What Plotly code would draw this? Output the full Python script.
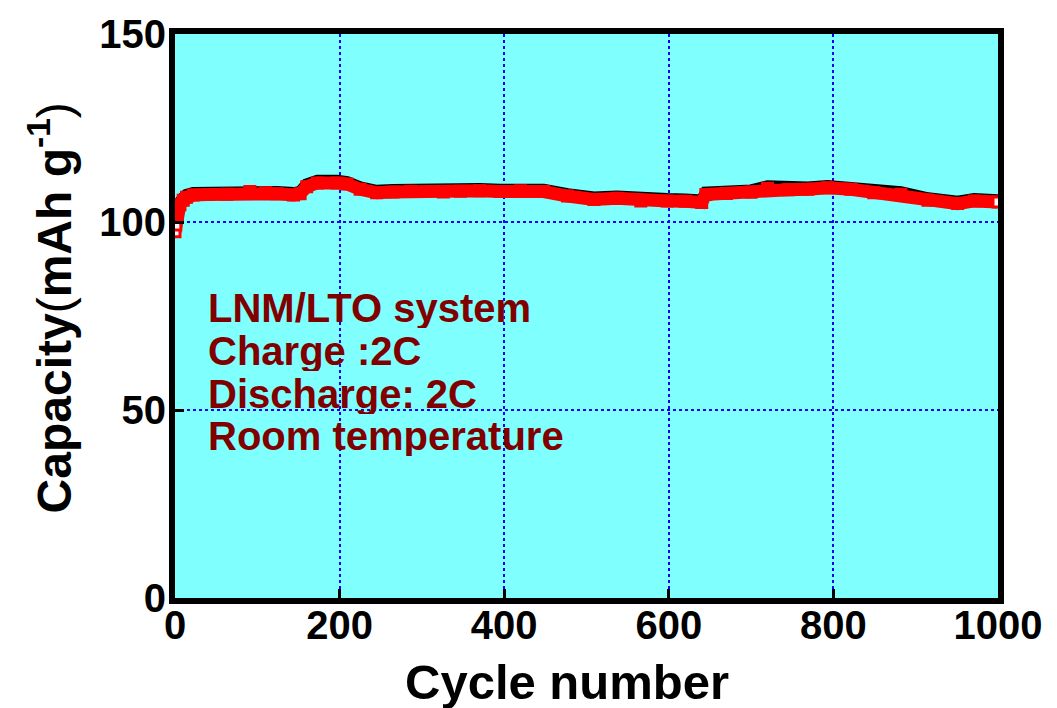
import plotly.graph_objects as go

# Cycle index and discharge capacity (mAh/g) of the LNM/LTO cell at 2C/2C
cycles = [0, 1, 3, 6, 10, 14, 22, 40, 63, 91, 110, 124, 144, 152, 160, 173, 197,
          209, 225, 245, 265, 286, 326, 347, 370, 395, 420, 448, 477, 509, 537,
          566, 598, 620, 640, 645, 670, 700, 720, 745, 769, 793, 821, 849, 882,
          915, 951, 971, 1000]
discharge = [97.4, 99.2, 102.0, 104.6, 105.8, 106.6, 107.2, 107.3, 107.4, 108.1,
             107.8, 107.5, 107.2, 107.5, 109.4, 110.4, 110.4, 110.1, 108.7, 107.8,
             108.0, 108.2, 108.0, 108.2, 108.3, 108.1, 108.3, 108.1, 106.9, 106.0,
             106.3, 105.6, 105.6, 105.5, 105.2, 107.3, 107.6, 107.9, 109.0, 108.6,
             108.7, 109.1, 108.7, 107.8, 107.4, 105.8, 104.9, 105.6, 105.3]
# Charge capacity, running just above the discharge curve
charge = [97.9, 99.8, 102.7, 105.3, 106.4, 107.2, 107.7, 107.8, 107.9, 108.6,
          108.3, 108.0, 107.7, 108.0, 110.0, 111.0, 111.0, 110.6, 109.2, 108.3,
          108.5, 108.7, 108.5, 108.7, 108.8, 108.6, 108.8, 108.6, 107.4, 106.5,
          106.8, 106.1, 106.1, 106.0, 105.7, 107.8, 108.1, 108.4, 109.5, 109.1,
          109.2, 109.6, 109.2, 108.3, 107.9, 106.3, 105.4, 106.1, 105.8]

x_ticks = [0, 200, 400, 600, 800, 1000]
y_ticks = [0, 50, 100, 150]

notes = ["LNM/LTO system", "Charge :2C", "Discharge: 2C", "Room temperature"]

FONT = "Liberation Sans, Arial, sans-serif"

fig = go.Figure()

fig.add_trace(go.Scatter(
    x=cycles, y=charge, mode="lines",
    line=dict(color="black", width=12),
    hoverinfo="skip", showlegend=False,
))

# white-centred squares at the ends of the curve, solid red elsewhere
fill = ["white" if i in (0, 1, len(cycles) - 1) else "red" for i in range(len(cycles))]
fig.add_trace(go.Scatter(
    x=cycles, y=discharge, mode="lines+markers",
    line=dict(color="red", width=13),
    marker=dict(symbol="square", size=10, color=fill,
                line=dict(color="red", width=3)),
    showlegend=False,
))

axis_common = dict(
    showline=True, linecolor="black", linewidth=6, mirror=True,
    ticks="inside", ticklen=9, tickwidth=3, tickcolor="black",
    showgrid=True, gridcolor="blue", gridwidth=2, griddash="dot",
    zeroline=False,
    tickfont=dict(family=FONT, size=40, color="black", weight="bold"),
)

fig.update_xaxes(range=[0, 1000], tickvals=x_ticks, ticktext=[str(v) for v in x_ticks],
                 ticklabelstandoff=-13, **axis_common)
fig.update_yaxes(range=[0, 150], tickvals=y_ticks, ticktext=[str(v) for v in y_ticks],
                 ticklabelstandoff=-5, **axis_common)

# condition notes, one line each, packed tightly
note_y = [77.2, 65.9, 54.5, 43.2]
for txt, yv in zip(notes, note_y):
    fig.add_annotation(
        x=40, y=yv, xref="x", yref="y", text=txt, showarrow=False,
        xanchor="left", yanchor="middle", borderpad=0, borderwidth=0,
        height=41, valign="middle",
        font=dict(family=FONT, size=40, color="#800000", weight="bold"),
    )

# axis titles
fig.add_annotation(
    x=0.476, y=-0.149, xref="paper", yref="paper",
    text="Cycle number", showarrow=False, xanchor="center", yanchor="middle",
    font=dict(family=FONT, size=49, color="black", weight="bold"),
)
fig.add_annotation(
    x=-0.152, y=0.515, xref="paper", yref="paper",
    text="<b>Capacity</b>(<b>mAh g<sup>-1</sup></b>)", showarrow=False,
    textangle=-90, xanchor="center", yanchor="middle",
    font=dict(family=FONT, size=48, color="black"),
)

fig.update_layout(
    width=1057, height=708,
    margin=dict(l=175, r=59, t=29, b=110),
    paper_bgcolor="white", plot_bgcolor="#80ffff",
    font=dict(family=FONT),
)

fig.write_html("out.html")
